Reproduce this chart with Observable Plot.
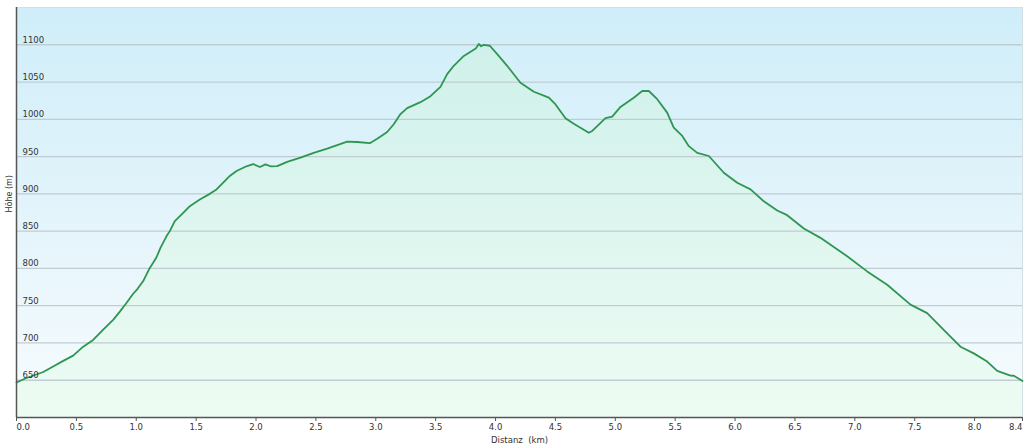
<!DOCTYPE html>
<html><head><meta charset="utf-8">
<script src="https://cdn.jsdelivr.net/npm/d3@7"></script>
<script src="https://cdn.jsdelivr.net/npm/@observablehq/plot@0.6"></script>
<style>html,body{margin:0;padding:0;background:#fff;} svg{display:block}</style>
</head><body><div id="chart"></div>
<script>
// Distance along the route (km)
const distanceKm = [0.000,0.083,0.223,0.306,0.390,0.473,0.557,0.640,0.724,0.807,0.863,0.918,0.974,1.008,1.058,1.113,1.141,1.169,1.202,1.252,1.280,1.322,1.392,1.447,1.531,1.614,1.670,1.726,1.781,1.837,1.920,1.976,2.032,2.079,2.121,2.177,2.260,2.371,2.482,2.594,2.678,2.761,2.845,2.950,3.012,3.095,3.150,3.206,3.262,3.373,3.457,3.540,3.596,3.651,3.735,3.805,3.835,3.860,3.880,3.902,3.952,4.014,4.097,4.208,4.320,4.445,4.501,4.584,4.653,4.779,4.807,4.849,4.918,4.974,5.043,5.154,5.225,5.280,5.350,5.433,5.488,5.559,5.614,5.684,5.781,5.906,6.018,6.129,6.240,6.352,6.435,6.574,6.713,6.936,7.103,7.270,7.465,7.604,7.771,7.882,7.993,8.105,8.189,8.300,8.328,8.400];
// Elevation (m)
const elevationM = [647,653,661,668.5,676,683,695,704,718,731,742,753.5,766,772,783,800.6,807.5,815,827.5,843,850,863.5,874.5,883.5,892.5,900,906,915,924,930.6,937,940,936,939.6,937,937.3,943,948.5,955,960.6,965.5,970,969.6,968,974,983,993.4,1007,1015,1023,1031,1043.5,1060.6,1071.8,1085,1092,1095,1101,1098,1100,1098.7,1087.5,1071.8,1049,1037,1029,1020,1001.5,994,982,984.4,991,1001.5,1003.6,1016.6,1029,1038,1038,1027,1009,989,977.7,964,955,950.8,928.3,915,906,890,877.7,871.4,853.6,841,816.3,796,778,751.4,740,713,695,686,675,662.6,656.3,656,649];
const xTicks = [0,0.5,1,1.5,2,2.5,3,3.5,4,4.5,5,5.5,6,6.5,7,7.5,8,8.4];
const yTicks = [650,700,750,800,850,900,950,1000,1050,1100];
const xLabel = "Distanz\u00a0 (km)";
const yLabel = "Höhe (m)";

const profile = distanceKm.map((d, i) => ({d, h: elevationM[i]}));
const fmt = d => d.toFixed(1);
const axisCommon = {tickSize: 4, tickPadding: 2, tickFormat: fmt, label: null, stroke: "#555", fill: "#333"};

const plot = Plot.plot({
  width: 1024, height: 448,
  marginLeft: 16, marginRight: 2, marginTop: 7, marginBottom: 31,
  style: {fontFamily: "DejaVu Sans, Verdana, sans-serif", fontSize: "8.5px", background: "transparent", overflow: "visible", color: "#333"},
  x: {domain: [0, 8.4], axis: null},
  y: {domain: [600, 1150], axis: null},
  marks: [
    Plot.frame({fill: "url(#bgGrad)", stroke: "#d3dfe3"}),
    Plot.areaY(profile, {x: "d", y1: 600, y2: "h", fill: "url(#areaGrad)"}),
    Plot.ruleY(yTicks, {stroke: "#bfcdd2", strokeWidth: 1.3}),
    Plot.lineY(profile, {x: "d", y: "h", stroke: "#2e9650", strokeWidth: 1.8}),
    Plot.text(yTicks, {frameAnchor: "left", y: d => d, text: d => String(d), textAnchor: "start", lineAnchor: "bottom", dx: 6, dy: -2, fill: "#333"}),
    Plot.axisX(xTicks.slice(1, -1), {...axisCommon}),
    Plot.axisX([xTicks[0]], {...axisCommon, textAnchor: "start"}),
    Plot.axisX([xTicks[xTicks.length - 1]], {...axisCommon, textAnchor: "end"}),
    Plot.ruleX([0], {stroke: "#555", strokeWidth: 1.5}),
    Plot.ruleY([600], {stroke: "#555", strokeWidth: 1.5}),
    Plot.text([yLabel], {frameAnchor: "left", rotate: -90, dx: -7, fontSize: 8, fill: "#333"}),
    Plot.text([xLabel], {frameAnchor: "bottom", dy: 25, fontSize: 8.5, fill: "#333"})
  ]
});

const svg = d3.select(plot);
const defs = svg.insert("defs", ":first-child");
const bg = defs.append("linearGradient").attr("id", "bgGrad")
  .attr("gradientUnits", "userSpaceOnUse").attr("x1", 0).attr("y1", 7).attr("x2", 0).attr("y2", 417);
bg.append("stop").attr("offset", 0).attr("stop-color", "#cfeef9");
bg.append("stop").attr("offset", 0.5).attr("stop-color", "#e3f4fb");
bg.append("stop").attr("offset", 1).attr("stop-color", "#f8fcfe");
const ag = defs.append("linearGradient").attr("id", "areaGrad")
  .attr("gradientUnits", "userSpaceOnUse").attr("x1", 0).attr("y1", 7).attr("x2", 0).attr("y2", 417);
ag.append("stop").attr("offset", 0).attr("stop-color", "#cdf0ea");
ag.append("stop").attr("offset", 0.4).attr("stop-color", "#daf4ee");
ag.append("stop").attr("offset", 1).attr("stop-color", "#edfcf3");

document.getElementById("chart").append(plot);
</script>
</body></html>
